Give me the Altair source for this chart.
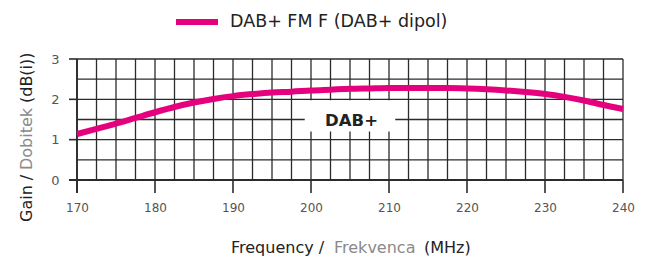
import altair as alt
import pandas as pd

# ---- data ----
freq = [170, 172.5, 175, 177.5, 180, 182.5, 185, 187.5, 190, 192.5, 195, 197.5,
        200, 202.5, 205, 207.5, 210, 212.5, 215, 217.5, 220, 222.5, 225, 227.5,
        230, 232.5, 235, 237.5, 240]
gain = [1.14, 1.27, 1.40, 1.54, 1.68, 1.81, 1.92, 2.01, 2.08, 2.13, 2.17, 2.19,
        2.22, 2.24, 2.26, 2.27, 2.28, 2.28, 2.28, 2.28, 2.27, 2.25, 2.22, 2.18,
        2.13, 2.06, 1.97, 1.86, 1.76]
x_grid = [170 + 2.5 * i for i in range(29)]
y_grid = [0, 0.5, 1, 1.5, 2, 2.5, 3]
x_ticks = [170, 180, 190, 200, 210, 220, 230, 240]
y_ticks = [0, 1, 2, 3]
series_name = "DAB+ FM F (DAB+ dipol)"
band_label = "DAB+"
band_box = {"x": 199.2, "x2": 210.8, "y": 1.2, "y2": 1.98}
band_text = {"x": 205.2, "y": 1.46}

W, H = 546, 121
PINK = "#e5007e"
GRID = "#2b2b2b"
DARK = "#222222"
GREY = "#8a8a8a"
FONT = "DejaVu Sans"

xs = alt.Scale(domain=[170, 240], nice=False, zero=False)
ys = alt.Scale(domain=[0, 3], nice=False, zero=False)
xaxis = alt.Axis(values=x_ticks, title=None, grid=False, domain=False, ticks=False,
                 labelFlush=False, labelPadding=22, labelColor="#555555",
                 labelFontSize=12, labelFont=FONT)
yaxis = alt.Axis(values=y_ticks, title=None, grid=False, domain=False, ticks=False,
                 labelPadding=18, labelColor="#555555", labelFontSize=13, labelFont=FONT)

curve_df = pd.DataFrame({"f": freq, "g": gain})
xg_df = pd.DataFrame({"f": x_grid})
yg_df = pd.DataFrame({"g": y_grid})
xt_df = pd.DataFrame({"f": x_ticks})
yt_df = pd.DataFrame({"g": y_ticks})

vgrid = alt.Chart(xg_df).mark_rule(color=GRID, strokeWidth=1.3).encode(
    x=alt.X("f:Q", scale=xs, axis=xaxis), y=alt.value(0), y2=alt.value(H))
hgrid = alt.Chart(yg_df).mark_rule(color=GRID, strokeWidth=1.3).encode(
    y=alt.Y("g:Q", scale=ys, axis=yaxis), x=alt.value(0), x2=alt.value(W))
xtick = alt.Chart(xt_df).mark_rule(color=GRID, strokeWidth=1.6).encode(
    x=alt.X("f:Q", scale=xs, axis=xaxis), y=alt.value(H), y2=alt.value(H + 13))
ytick = alt.Chart(yt_df).mark_rule(color=GRID, strokeWidth=1.6).encode(
    y=alt.Y("g:Q", scale=ys, axis=yaxis), x=alt.value(-8), x2=alt.value(0))
xaxis_line = alt.Chart(pd.DataFrame({"g": [0]})).mark_rule(color=GRID, strokeWidth=1.8).encode(
    y=alt.Y("g:Q", scale=ys, axis=yaxis), x=alt.value(-8), x2=alt.value(W))
yaxis_line = alt.Chart(pd.DataFrame({"f": [170]})).mark_rule(color=GRID, strokeWidth=1.8).encode(
    x=alt.X("f:Q", scale=xs, axis=xaxis), y=alt.value(0), y2=alt.value(H + 13))

box = alt.Chart(pd.DataFrame([band_box])).mark_rect(color="white").encode(
    x=alt.X("x:Q", scale=xs, axis=xaxis), x2="x2:Q",
    y=alt.Y("y:Q", scale=ys, axis=yaxis), y2="y2:Q")
btxt = alt.Chart(pd.DataFrame([{**band_text, "t": band_label}])).mark_text(
    font=FONT, fontSize=16.5, fontWeight="bold", color=DARK, baseline="middle", align="center").encode(
    x=alt.X("x:Q", scale=xs, axis=xaxis), y=alt.Y("y:Q", scale=ys, axis=yaxis), text="t:N")

curve = alt.Chart(curve_df).mark_line(color=PINK, strokeWidth=6, interpolate="monotone").encode(
    x=alt.X("f:Q", scale=xs, axis=xaxis), y=alt.Y("g:Q", scale=ys, axis=yaxis))

# legend
leg_line = alt.Chart(pd.DataFrame({"a": [0]})).mark_rule(color=PINK, strokeWidth=6).encode(
    x=alt.value(99), x2=alt.value(141), y=alt.value(-37))
leg_txt = alt.Chart(pd.DataFrame({"t": [series_name]})).mark_text(
    font=FONT, fontSize=17.5, color=DARK, align="left", baseline="middle").encode(
    x=alt.value(153), y=alt.value(-37), text="t:N")

# titles (mixed colours)
def txt(t, x, y, color, angle=0):
    return alt.Chart(pd.DataFrame({"t": [t]})).mark_text(
        font=FONT, fontSize=16, color=color, align="left", baseline="alphabetic", angle=angle).encode(
        x=alt.value(x), y=alt.value(y), text="t:N")

xt1 = txt("Frequency /", 154, 194, DARK)
xt2 = txt("Frekvenca", 257, 194, GREY)
xt3 = txt("(MHz)", 347, 194, DARK)
yt1 = txt("Gain /", -45, 163, DARK, 270)
yt2 = txt("Dobitek", -45, 111, GREY, 270)
yt3 = txt("(dB(i))", -45, 44, DARK, 270)

chart = alt.layer(
    vgrid, hgrid, xtick, ytick, xaxis_line, yaxis_line, box, btxt, curve,
    leg_line, leg_txt, xt1, xt2, xt3, yt1, yt2, yt3
).properties(
    width=W, height=H,
    autosize=alt.AutoSizeParams(type="none"),
    padding={"left": 69, "top": 51, "right": 12, "bottom": 80},
    background="white",
).configure_view(stroke=None)

chart.save("out.html", embed_options={"renderer": "svg", "actions": False})
